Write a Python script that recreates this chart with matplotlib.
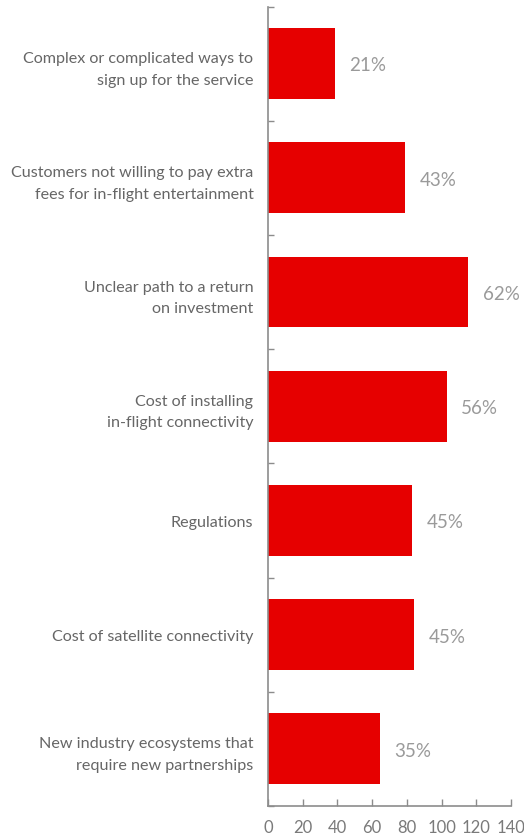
import matplotlib
matplotlib.use("Agg")
import matplotlib.pyplot as plt

# Barriers to in-flight connectivity: respondent counts and shares
categories = [
    "Complex or complicated ways to\nsign up for the service",
    "Customers not willing to pay extra\nfees for in-flight entertainment",
    "Unclear path to a return\non investment",
    "Cost of installing\nin-flight connectivity",
    "Regulations",
    "Cost of satellite connectivity",
    "New industry ecosystems that\nrequire new partnerships",
]
counts = [38.6, 79.0, 115.2, 102.9, 83.1, 84.0, 64.5]
share_labels = ["21%", "43%", "62%", "56%", "45%", "45%", "35%"]
x_ticks = [0, 20, 40, 60, 80, 100, 120, 140]

RED = "#E60000"
AXIS_GREY = "#8c8c8c"
TEXT_GREY = "#666666"
VALUE_GREY = "#9a9a9a"

plt.rcParams["font.family"] = ["Lato", "DejaVu Sans"]

fig = plt.figure(figsize=(5.24, 8.37), dpi=100)
ax = fig.add_axes([268 / 524, 30 / 837, 243 / 524, 799.5 / 837])

n = len(categories)
ypos = list(range(n))
ax.barh(ypos, counts, height=0.62, color=RED, edgecolor="none", zorder=2)

for y, v, lab in zip(ypos, counts, share_labels):
    ax.annotate(lab, xy=(v, y), xytext=(10.5, -1), textcoords="offset points",
                ha="left", va="center", fontsize=13.5, color=VALUE_GREY)

ax.set_ylim(n - 0.5, -0.5)
ax.set_xlim(0, 140)
ax.set_xticks(x_ticks)
ax.set_xticklabels([str(t) for t in x_ticks])

# category labels sit at bar centres; small ticks mark the category boundaries
ax.set_yticks(ypos)
ax.set_yticklabels(categories, fontsize=11.6, color=TEXT_GREY, linespacing=1.7)
ax.set_yticks([i - 0.5 for i in range(n + 1)], minor=True)
ax.tick_params(axis="y", which="major", length=0, pad=10.5)
ax.tick_params(axis="y", which="minor", direction="in", length=4,
               width=1, color=AXIS_GREY)
ax.tick_params(axis="x", direction="in", length=5, width=1, color=AXIS_GREY,
               labelsize=12, labelcolor="#7a7a7a", pad=9.5)
for lab in ax.get_yticklabels():
    lab.set_horizontalalignment("right")

for side in ("top", "right"):
    ax.spines[side].set_visible(False)
for side in ("left", "bottom"):
    ax.spines[side].set_color(AXIS_GREY)
    ax.spines[side].set_linewidth(1.2)

fig.savefig("out.png", dpi=100)
